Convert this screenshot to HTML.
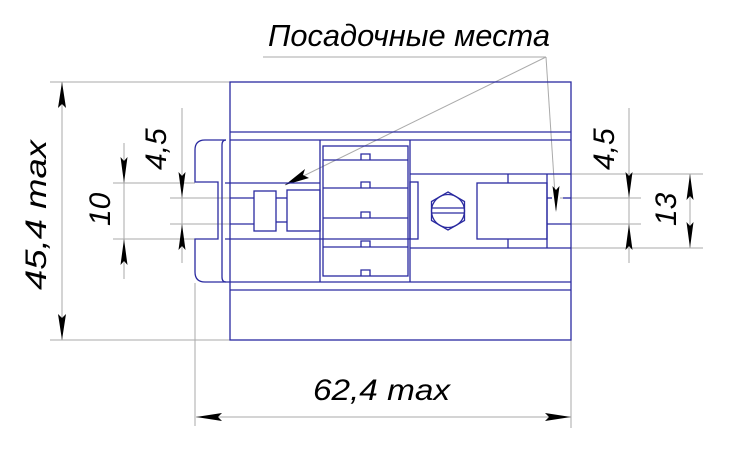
<!DOCTYPE html>
<html><head><meta charset="utf-8"><style>
html,body{margin:0;padding:0;background:#fff;width:730px;height:449px;overflow:hidden}
text{font-family:"Liberation Sans","DejaVu Sans",sans-serif;font-style:italic;fill:#000}
</style></head><body>
<svg width="730" height="449" viewBox="0 0 730 449" xmlns="http://www.w3.org/2000/svg">
<g stroke="#aaa" stroke-width="1" fill="none">
<line x1="50" y1="82" x2="230" y2="82"/>
<line x1="50" y1="340" x2="230" y2="340"/>
<line x1="113" y1="183" x2="195" y2="183"/>
<line x1="113" y1="239" x2="195" y2="239"/>
<line x1="124" y1="143" x2="124" y2="279"/>
<line x1="170" y1="198" x2="254" y2="198"/>
<line x1="170" y1="224" x2="254" y2="224"/>
<line x1="182" y1="108" x2="182" y2="263"/>
<line x1="195" y1="283" x2="195" y2="426"/>
<line x1="571" y1="340" x2="571" y2="428"/>
<line x1="571" y1="174" x2="703" y2="174"/>
<line x1="571" y1="248" x2="703" y2="248"/>
<line x1="560" y1="198" x2="641" y2="198"/>
<line x1="571" y1="224" x2="641" y2="224"/>
<line x1="629" y1="108" x2="629" y2="263"/>
<line x1="690" y1="174" x2="690" y2="248"/>
<line x1="263" y1="57" x2="546" y2="57"/>
<line x1="546" y1="57" x2="285" y2="185"/>
<line x1="546" y1="57" x2="556" y2="210"/>
<line x1="62" y1="82" x2="62" y2="340"/>
<line x1="196" y1="417" x2="571" y2="417"/>
</g>
<g fill="#000">
<path d="M62,82 l-4,26 l4,-4 l4,4z"/>
<path d="M62,340 l-4,-26 l4,4 l4,-4z"/>
<path d="M124,183 l-3.5,-26 l3.5,4 l3.5,-4z"/>
<path d="M124,239 l-3.5,26 l3.5,-4 l3.5,4z"/>
<path d="M182,198 l-3.5,-26 l3.5,4 l3.5,-4z"/>
<path d="M182,224 l-3.5,26 l3.5,-4 l3.5,4z"/>
<path d="M196,417 l26,-4 l-4,4 l4,4z"/>
<path d="M571,417 l-26,-4 l4,4 l-4,4z"/>
<path d="M629,198 l-3.5,-26 l3.5,4 l3.5,-4z"/>
<path d="M629,224 l-3.5,26 l3.5,-4 l3.5,4z"/>
<path d="M690,174 l-3.5,26 l3.5,-4 l3.5,4z"/>
<path d="M690,248 l-3.5,-26 l3.5,4 l3.5,-4z"/>
<path d="M285,185 l20,-16 l-2,6 l6,3z"/>
<path d="M556,212 l-3.5,-26 l3.5,4 l3.5,-4z"/>
</g>
<g stroke="#2a2aa0" stroke-width="1.3" fill="none">
<rect x="230" y="82" width="341" height="258"/>
<line x1="230" y1="132" x2="571" y2="132"/>
<line x1="230" y1="140" x2="571" y2="140"/>
<line x1="230" y1="282" x2="571" y2="282"/>
<line x1="230" y1="290" x2="571" y2="290"/>
<path d="M226,140 L205,140 Q195,140 195,150 L195,182 L218,182 L218,239 L195,239 L195,272 Q195,282 205,282 L226,282"/>
<path d="M226,140 Q222,140 222,145 L222,277 Q222,282 226,282 L230,282"/>
<line x1="320" y1="140" x2="320" y2="282"/>
<line x1="410" y1="140" x2="410" y2="282"/>
<rect x="323" y="146" width="85" height="130"/>
<line x1="323" y1="160" x2="408" y2="160"/>
<line x1="323" y1="188" x2="408" y2="188"/>
<line x1="323" y1="218" x2="408" y2="218"/>
<line x1="323" y1="247" x2="408" y2="247"/>
<path d="M361,160 v-6 h9 v6"/>
<path d="M361,188 v-6 h9 v6"/>
<path d="M361,218 v-6 h9 v6"/>
<path d="M361,247 v-6 h9 v6"/>
<path d="M361,276 v-6 h9 v6"/>
<rect x="410" y="182" width="8" height="57"/>
<line x1="225" y1="183" x2="320" y2="183"/>
<line x1="225" y1="239" x2="410" y2="239"/>
<line x1="230" y1="198" x2="254" y2="198"/>
<line x1="230" y1="224" x2="254" y2="224"/>
<line x1="276" y1="198" x2="287" y2="198"/>
<line x1="276" y1="222" x2="287" y2="222"/>
<rect x="254" y="191" width="22" height="40"/>
<rect x="287" y="190" width="33" height="41"/>
<line x1="410" y1="174" x2="571" y2="174"/>
<line x1="410" y1="248" x2="571" y2="248"/>
<polygon points="448,192 464.5,201.5 464.5,220.5 448,230 431.5,220.5 431.5,201.5"/>
<circle cx="448" cy="211" r="16.5"/>
<line x1="432" y1="208" x2="464" y2="208"/>
<line x1="432" y1="213" x2="464" y2="213"/>
<rect x="477" y="183" width="70" height="56"/>
<line x1="508" y1="174" x2="508" y2="183"/>
<line x1="508" y1="239" x2="508" y2="248"/>
<line x1="547" y1="174" x2="547" y2="248"/>
<line x1="547" y1="198" x2="552" y2="198"/>
<line x1="563" y1="198" x2="571" y2="198"/>
<line x1="547" y1="224" x2="571" y2="224"/>
</g>
<text x="268" y="46" font-size="31" textLength="282" lengthAdjust="spacingAndGlyphs">Посадочные места</text>
<text x="313" y="400" font-size="30" textLength="137" lengthAdjust="spacingAndGlyphs">62,4 max</text>
<text transform="translate(46,290) rotate(-90)" font-size="30" textLength="150" lengthAdjust="spacingAndGlyphs">45,4 max</text>
<text transform="translate(110,226) rotate(-90)" font-size="30">10</text>
<text transform="translate(166,170) rotate(-90)" font-size="30">4,5</text>
<text transform="translate(614,170) rotate(-90)" font-size="30">4,5</text>
<text transform="translate(676,226) rotate(-90)" font-size="30">13</text>
</svg>
</body></html>
